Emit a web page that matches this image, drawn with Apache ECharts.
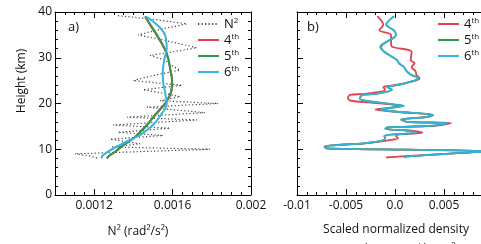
<!DOCTYPE html>
<html>
<head>
<meta charset="utf-8">
<script src="https://cdn.jsdelivr.net/npm/echarts@6/dist/echarts.min.js"></script>
<style>
  html, body { margin: 0; padding: 0; background: #fff; }
  #chart { width: 481px; height: 244px; }
</style>
</head>
<body>
<div id="chart"></div>
<script>
// panel a) N2 profile and polynomial fits
const n2Heights = [39.2, 38.5, 37.4, 36.2, 35.0, 33.8, 32.2, 31.2, 30.5, 29.5, 28.5, 27.3, 26.2, 25.0, 24.0, 23.0, 22.2, 21.5, 20.6, 20.0, 19.2, 18.0, 17.0, 16.4, 15.3, 14.6, 13.7, 13.0, 12.2, 11.2, 10.5, 10.0, 9.0, 8.6, 8.1];
const n2Values = [0.001321, 0.001485, 0.001673, 0.001536, 0.001423, 0.001561, 0.001724, 0.001587, 0.001485, 0.00156, 0.001587, 0.001638, 0.00151, 0.001398, 0.001648, 0.001449, 0.00156, 0.001638, 0.001536, 0.001832, 0.001469, 0.001765, 0.001367, 0.001724, 0.001296, 0.001587, 0.001321, 0.001551, 0.001281, 0.001434, 0.001291, 0.001791, 0.001102, 0.001168, 0.001214];

const heightsA = [39, 37, 35, 32, 30, 27, 25, 22.5, 20, 17.5, 15.3, 13.1, 12.5, 10.9, 9.5, 8.7, 8];
const fit4A = [0.00146, 0.001488, 0.001518, 0.001558, 0.001576, 0.00159, 0.001598, 0.001593, 0.001562, 0.001512, 0.001468, 0.001418, 0.001403, 0.001348, 0.001308, 0.001279, 0.001264];
const fit5A = [0.00146, 0.00149, 0.00152, 0.00156, 0.001577, 0.00159, 0.001597, 0.001592, 0.00156, 0.00151, 0.00147, 0.00142, 0.001405, 0.00135, 0.00131, 0.00128, 0.001265];
const fit6A = [0.001465, 0.001526, 0.001561, 0.00157, 0.00156, 0.00155, 0.001551, 0.001562, 0.00157, 0.00154, 0.0015, 0.001434, 0.001405, 0.00133, 0.00127, 0.001245, 0.001235];

// panel b) scaled normalized density perturbations
const heightsB = [39.1, 37.2, 36.0, 35.0, 33.2, 32.4, 31.3, 29.5, 28.8, 28.0, 27.0, 26.2, 25.6, 25.0, 24.0, 23.6, 23.0, 22.1, 21.9, 21.1, 20.6, 20.2, 19.7, 19.5, 19.0, 18.7, 18.2, 17.5, 17.0, 16.5, 16.0, 15.7, 15.1, 14.8, 14.4, 14.1, 13.6, 13.3, 12.9, 12.4, 11.9, 11.3, 10.6, 10.2, 9.9, 9.6, 9.0, 8.4, 8.2];
const fit4B = [-0.0018, -0.0012, -0.0016, -0.0004, -0.0004, -0.0003, 0.0017, 0.0016, 0.0020, 0.0017, 0.0021, 0.0022, 0.0025, 0.0021, 0.0000, -0.0012, -0.0010, -0.0030, -0.0046, -0.0048, -0.0045, -0.0025, 0.0000, 0.0007, -0.0008, -0.0020, 0.0000, 0.0038, 0.0030, 0.0006, 0.0012, 0.0057, 0.0038, -0.0006, -0.0008, 0.0015, 0.0028, 0.0008, 0.0001, 0.0003, -0.0008, -0.0030, -0.0072, -0.0070, 0.0013, 0.0095, 0.0052, 0.0003, -0.0009];
const fit5B = [-0.0001, -0.0009, -0.0001, 0.0001, -0.0011, -0.0015, -0.0011, 0.0002, 0.0004, 0.0009, 0.0012, 0.0017, 0.0024, 0.0020, 0.0002, -0.0008, -0.0003, -0.0020, -0.0033, -0.0036, -0.0030, -0.0016, 0.0002, 0.0009, -0.0005, -0.0015, 0.0002, 0.0039, 0.0032, 0.0007, 0.0012, 0.0054, 0.0035, -0.0008, -0.0010, 0.0012, 0.0022, 0.0002, -0.0011, -0.0010, -0.0013, -0.0032, -0.0071, -0.0069, 0.0013, 0.0095, 0.0053, 0.0012, 0.0009];
const fit6B = [-0.0001, -0.0009, -0.0001, 0.0001, -0.0010, -0.0014, -0.0011, 0.0002, 0.0004, 0.0009, 0.0012, 0.0017, 0.0024, 0.0020, 0.0002, -0.0008, -0.0003, -0.0020, -0.0033, -0.0036, -0.0030, -0.0016, 0.0002, 0.0009, -0.0005, -0.0015, 0.0002, 0.0039, 0.0032, 0.0007, 0.0012, 0.0054, 0.0035, -0.0008, -0.0010, 0.0012, 0.0022, 0.0002, -0.0011, -0.0010, -0.0013, -0.0032, -0.0071, -0.0069, 0.0013, 0.0095, 0.0053, 0.0012, 0.0009];

const xLabelsA = [0.0012, 0.0016, 0.002];

const FONT = 'Open Sans';
const RED = '#e5404f';
const GREEN = '#2f9a4c';
const BLUE = '#3ab3e4';

function pairs(xs, ys) {
  return xs.map((x, i) => [x, ys[i]]);
}

function supName(name) {
  if (name === 'N2') return 'N{sup|2}';
  return name.charAt(0) + '{sup|th}';
}

const axisLine = { show: true, onZero: false, lineStyle: { color: '#000', width: 1 } };
const noLine = { show: false, onZero: false };
const tickStyle = { color: '#000' };

function legendOf(names, left) {
  return {
    data: names,
    orient: 'vertical', left: left, top: 17, padding: 0,
    itemWidth: 21, itemHeight: 14, itemGap: 2,
    itemStyle: { opacity: 0 },
    formatter: supName,
    textStyle: { fontSize: 13, color: '#111', fontFamily: FONT, lineHeight: 14,
      rich: { sup: { fontSize: 8, verticalAlign: 'top', lineHeight: 14, fontFamily: FONT } } }
  };
}

const chart = echarts.init(document.getElementById('chart'));

let option = {
  animation: false,
  backgroundColor: '#fff',
  textStyle: { fontFamily: FONT },
  grid: [
    { left: 55, top: 12, width: 196, height: 183, outerBoundsMode: 'none' },
    { left: 297, top: 12, width: 196, height: 183, outerBoundsMode: 'none' }
  ],
  xAxis: [
    // a) bottom, labels + small ticks
    {
      gridIndex: 0, type: 'value', position: 'bottom', min: 0.001, max: 0.002, interval: 0.00005,
      axisLine: axisLine,
      axisTick: { show: true, inside: true, length: 3, lineStyle: tickStyle },
      axisLabel: { customValues: xLabelsA, color: '#111', fontSize: 12, margin: 5, fontFamily: FONT,
        formatter: v => String(+v.toFixed(4)) },
      splitLine: { show: false }
    },
    // a) bottom, big ticks
    {
      gridIndex: 0, type: 'value', position: 'bottom', min: 0.001, max: 0.002,
      axisLine: noLine,
      axisTick: { show: true, inside: true, length: 6, customValues: xLabelsA, lineStyle: tickStyle },
      axisLabel: { show: false }, splitLine: { show: false }
    },
    // a) top
    {
      gridIndex: 0, type: 'value', position: 'top', min: 0.001, max: 0.002, interval: 0.00005,
      axisLine: axisLine,
      axisTick: { show: true, inside: true, length: 3, lineStyle: tickStyle },
      axisLabel: { show: false }, splitLine: { show: false }
    },
    {
      gridIndex: 0, type: 'value', position: 'top', min: 0.001, max: 0.002,
      axisLine: noLine,
      axisTick: { show: true, inside: true, length: 6, customValues: xLabelsA, lineStyle: tickStyle },
      axisLabel: { show: false }, splitLine: { show: false }
    },
    // b) bottom
    {
      gridIndex: 1, type: 'value', position: 'bottom', min: -0.01, max: 0.01, interval: 0.005,
      axisLine: axisLine,
      axisTick: { show: true, inside: true, length: 6, lineStyle: tickStyle },
      minorTick: { show: true, splitNumber: 5, length: 3, lineStyle: tickStyle },
      axisLabel: { color: '#111', fontSize: 12, margin: 5, fontFamily: FONT,
        formatter: v => Math.abs(v) < 1e-12 ? '0.0' : String(+v.toFixed(4)) },
      splitLine: { show: false }
    },
    // b) top
    {
      gridIndex: 1, type: 'value', position: 'top', min: -0.01, max: 0.01, interval: 0.005,
      axisLine: axisLine,
      axisTick: { show: true, inside: true, length: 6, lineStyle: tickStyle },
      minorTick: { show: true, splitNumber: 5, length: 3, lineStyle: tickStyle },
      axisLabel: { show: false }, splitLine: { show: false }
    }
  ],
  yAxis: [
    {
      gridIndex: 0, type: 'value', position: 'left', min: 0, max: 40, interval: 10,
      axisLine: axisLine,
      axisTick: { show: true, inside: true, length: 6, lineStyle: tickStyle },
      minorTick: { show: true, splitNumber: 5, length: 3, lineStyle: tickStyle },
      axisLabel: { color: '#111', fontSize: 12, margin: 3, fontFamily: FONT },
      splitLine: { show: false }
    },
    {
      gridIndex: 0, type: 'value', position: 'right', min: 0, max: 40, interval: 10,
      axisLine: axisLine,
      axisTick: { show: true, inside: true, length: 6, lineStyle: tickStyle },
      minorTick: { show: true, splitNumber: 5, length: 3, lineStyle: tickStyle },
      axisLabel: { show: false }, splitLine: { show: false }
    },
    {
      gridIndex: 1, type: 'value', position: 'left', min: 0, max: 40, interval: 10,
      axisLine: axisLine,
      axisTick: { show: true, inside: true, length: 6, lineStyle: tickStyle },
      minorTick: { show: true, splitNumber: 5, length: 3, lineStyle: tickStyle },
      axisLabel: { show: false }, splitLine: { show: false }
    }
  ],
  legend: [
    legendOf(['N2', '4th', '5th', '6th'], 197),
    legendOf(['4th', '5th', '6th'], 437)
  ],
  graphic: [
    { type: 'text', left: 68, top: 21, style: { text: 'a)', font: '13px "Open Sans"', fill: '#111' } },
    { type: 'text', left: 307, top: 21, style: { text: 'b)', font: '13px "Open Sans"', fill: '#111' } },
    { type: 'text', x: 22, y: 81, rotation: Math.PI / 2,
      style: { text: 'Height (km)', font: '12px "Open Sans"', fill: '#111', align: 'center', verticalAlign: 'middle' } },
    { type: 'text', x: 138, y: 232,
      style: { text: 'N² (rad²/s²)', font: '12px "Open Sans"', fill: '#111', align: 'center', verticalAlign: 'middle' } },
    { type: 'text', x: 396, y: 230,
      style: { text: 'Scaled normalized density', font: '12px "Open Sans"', fill: '#111', align: 'center', verticalAlign: 'middle' } },
    { type: 'text', x: 396, y: 250,
      style: { text: 'perturbations (√(kg/m³))', font: '12px "Open Sans"', fill: '#111', align: 'center', verticalAlign: 'middle' } }
  ],
  series: [
    {
      name: 'N2', type: 'line', xAxisIndex: 0, yAxisIndex: 0, symbol: 'none',
      data: pairs(n2Values, n2Heights),
      lineStyle: { color: '#444', width: 1.2, type: [1.2, 2.3] }, itemStyle: { color: '#444' }
    },
    {
      name: '4th', type: 'line', xAxisIndex: 0, yAxisIndex: 0, symbol: 'none', smooth: 0.4,
      data: pairs(fit4A, heightsA), lineStyle: { color: RED, width: 2 }, itemStyle: { color: RED }
    },
    {
      name: '5th', type: 'line', xAxisIndex: 0, yAxisIndex: 0, symbol: 'none', smooth: 0.4,
      data: pairs(fit5A, heightsA), lineStyle: { color: GREEN, width: 2 }, itemStyle: { color: GREEN }
    },
    {
      name: '6th', type: 'line', xAxisIndex: 0, yAxisIndex: 0, symbol: 'none', smooth: 0.4,
      data: pairs(fit6A, heightsA), lineStyle: { color: BLUE, width: 2 }, itemStyle: { color: BLUE }
    },
    {
      name: '4th', type: 'line', xAxisIndex: 4, yAxisIndex: 2, symbol: 'none', smooth: 0.3,
      data: pairs(fit4B, heightsB), lineStyle: { color: RED, width: 1.8 }, itemStyle: { color: RED }
    },
    {
      name: '5th', type: 'line', xAxisIndex: 4, yAxisIndex: 2, symbol: 'none', smooth: 0.3,
      data: pairs(fit5B, heightsB), lineStyle: { color: GREEN, width: 1.8 }, itemStyle: { color: GREEN }
    },
    {
      name: '6th', type: 'line', xAxisIndex: 4, yAxisIndex: 2, symbol: 'none', smooth: 0.3,
      data: pairs(fit6B, heightsB), lineStyle: { color: BLUE, width: 1.8, opacity: 0.9 }, itemStyle: { color: BLUE }
    }
  ]
};

chart.setOption(option);
</script>
</body>
</html>
